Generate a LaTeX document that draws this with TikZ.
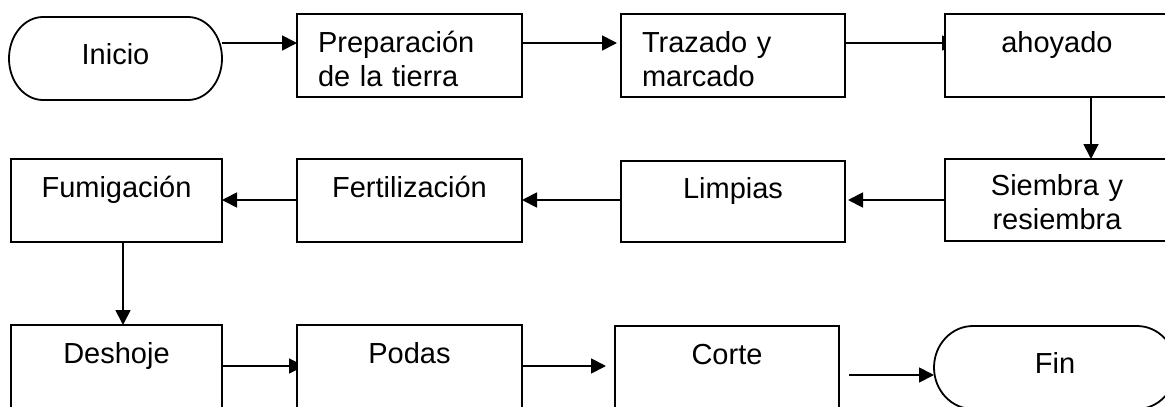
\documentclass[tikz,border=0pt]{standalone}
\usepackage{fontspec}
\setmainfont{Liberation Sans}
\usetikzlibrary{arrows.meta,calc}
\pgfdeclarelayer{background}
\pgfsetlayers{background,main}
\tikzset{
  lbl/.style={font=\fontsize{29}{34}\selectfont},
  box/.style={lbl, draw, line width=1.8pt, fill=white, inner ysep=0pt, outer sep=0pt,
    anchor=north west, text height=38pt, text depth=45pt},
  cbox/.style={box, inner xsep=0pt, align=center},
  lbox/.style={box, inner xsep=21pt, align=left},
  term/.style={lbl, inner sep=0pt, outer sep=0pt, anchor=north west, align=center,
    text height=47pt, text depth=36pt},
  termline/.style={line width=1.8pt},
  arr/.style={line width=1.8pt, -{Triangle[length=15pt,width=15pt]}},
}
\begin{document}
\begin{tikzpicture}[x=1pt,y=-1pt]
\useasboundingbox (0,0) rectangle (1165,407);
\clip (0,0) rectangle (1165,407);
\coordinate (r1) at (0,43);
\coordinate (r2) at (0,200);
\coordinate (r3) at (0,366);
\coordinate (r4) at (0,375);
\coordinate (c1) at (1091,0);
\coordinate (c2) at (123,0);
% row 1
\node[term, text width=213pt] (ini) at (9,17) {Inicio};
\draw[termline] ([xshift=34pt]ini.north west) -- ([xshift=-34pt]ini.north east)
  arc[start angle=90, end angle=-90, x radius=34pt, y radius=41.5pt]
  -- ([xshift=34pt]ini.south west)
  arc[start angle=270, end angle=90, x radius=34pt, y radius=41.5pt] -- cycle;
\node[lbox, text width=183pt] (prep) at (297,14) {Preparación\\de la tierra};
\node[lbox, text width=182pt] (traz) at (621,14) {Trazado y\\marcado};
\node[cbox, text width=224pt] (ahoy) at (945,14) {ahoyado};
% row 2
\node[cbox, text width=211pt] (fumi) at (11,159) {Fumigación};
\node[cbox, text width=225pt] (fert) at (297,159) {Fertilización};
\node[cbox, text width=224pt, text height=37pt, text depth=44pt] (limp) at (621,161) {Limpias};
\node[cbox, text width=224pt, text height=36pt, text depth=46pt] (siem) at (945,159) {Siembra y\\resiembra};
% row 3
\node[cbox, text width=211pt] (desh) at (11,325) {Deshoje};
\node[cbox, text width=225pt] (podas) at (297,325) {Podas};
\node[cbox, text width=224pt] (corte) at (615,326) {Corte};
\node[term, text width=242pt] (fin) at (934,326) {Fin};
\draw[termline] ([xshift=39pt]fin.north west) -- ([xshift=-39pt]fin.north east)
  arc[start angle=90, end angle=-90, x radius=39pt, y radius=41.5pt]
  -- ([xshift=39pt]fin.south west)
  arc[start angle=270, end angle=90, x radius=39pt, y radius=41.5pt] -- cycle;
% connectors
\begin{pgfonlayer}{background}
\draw[arr] (ini.east |- r1) -- (prep.west |- r1);
\draw[arr, shorten >=4pt] (prep.east |- r1) -- (traz.west |- r1);
\draw[arr, shorten >=-12pt] (traz.east |- r1) -- (ahoy.west |- r1);
\draw[arr] (ahoy.south -| c1) -- (siem.north -| c1);
\draw[arr, shorten >=3pt] (siem.west |- r2) -- (limp.east |- r2);
\draw[arr] (limp.west |- r2) -- (fert.east |- r2);
\draw[arr] (fert.west |- r2) -- (fumi.east |- r2);
\draw[arr] (fumi.south -| c2) -- (desh.north -| c2);
\draw[arr, shorten >=-7pt] (desh.east |- r3) -- (podas.west |- r3);
\draw[arr, shorten >=9pt] (podas.east |- r3) -- (corte.west |- r3);
\draw[arr, shorten <=10pt] (corte.east |- r4) -- (fin.west |- r4);
\end{pgfonlayer}
\end{tikzpicture}
\end{document}
